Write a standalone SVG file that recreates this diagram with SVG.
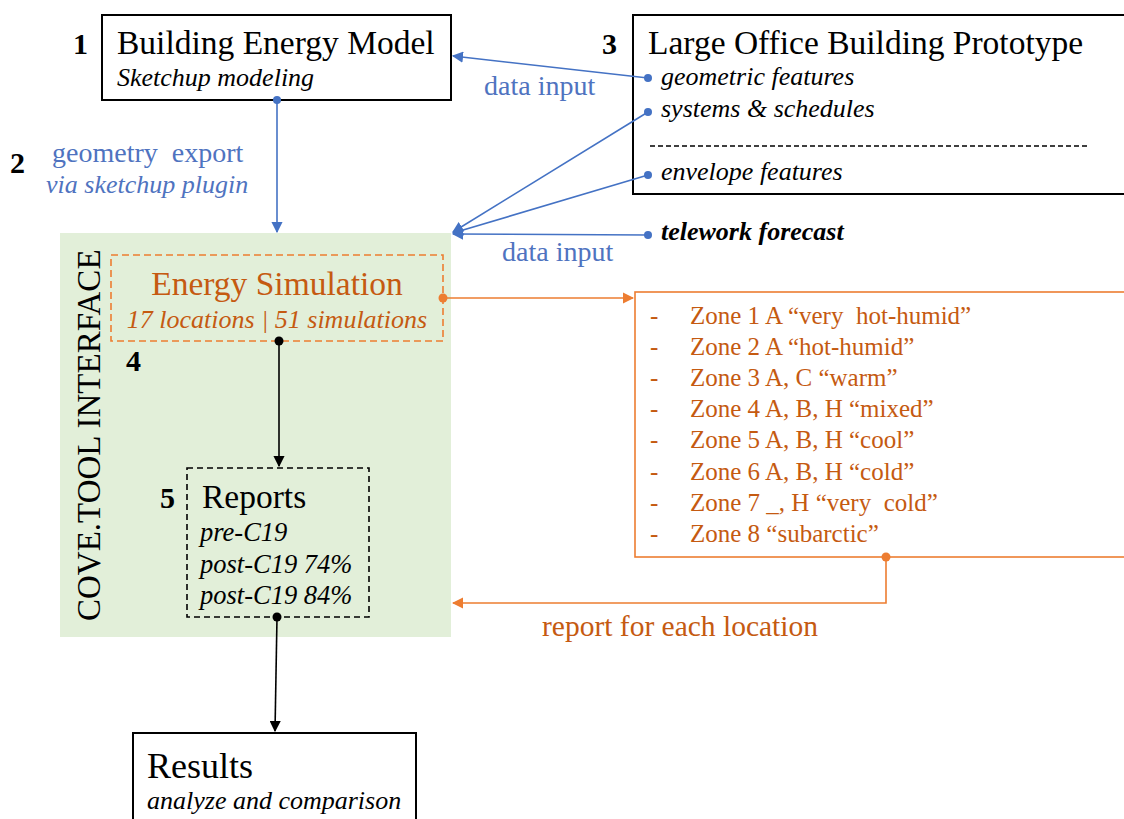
<svg xmlns="http://www.w3.org/2000/svg" width="1124" height="819" viewBox="0 0 1124 819">
<defs>
<marker id="ab" viewBox="0 0 10 10" refX="9" refY="5" markerWidth="7" markerHeight="7" orient="auto-start-reverse"><path d="M0,0 L10,5 L0,10 z" fill="#4472c4"/></marker>
<marker id="ak" viewBox="0 0 10 10" refX="9" refY="5" markerWidth="7" markerHeight="7" orient="auto"><path d="M0,0 L10,5 L0,10 z" fill="#000"/></marker>
<marker id="ao" viewBox="0 0 10 10" refX="9" refY="5" markerWidth="7" markerHeight="7" orient="auto"><path d="M0,0 L10,5 L0,10 z" fill="#ed7d31"/></marker>
</defs>
<style>
text{font-family:"Liberation Serif","Times New Roman",serif}
.t{font-size:33.5px;fill:#000}
.s{font-size:26px;font-style:italic;fill:#000}
.n{font-size:30px;font-weight:bold;fill:#000}
.bl{font-size:28px;fill:#4f73c0}
.bli{font-size:26px;font-style:italic;fill:#4f73c0}
.o{font-size:25px;fill:#c55a11}
.r{font-size:26.5px;font-style:italic;fill:#000}
.box{fill:#fff;stroke:#000;stroke-width:2}
.lb{stroke:#4472c4;stroke-width:1.6;fill:none}
.lo{stroke:#ed7d31;stroke-width:1.6;fill:none}
.lk{stroke:#000;stroke-width:1.6;fill:none}
</style>
<rect width="1124" height="819" fill="#fff"/>

<g id="cove">
<rect x="60" y="233" width="391" height="404" fill="#e2efd9"/>
<text transform="translate(100,621) rotate(-90)" style="font-size:33px;fill:#000">COVE.TOOL INTERFACE</text>
</g>

<g id="n1">
<rect class="box" x="102" y="15" width="349" height="85"/>
<text class="n" x="73" y="54">1</text>
<text class="t" x="117" y="54">Building Energy Model</text>
<text class="s" x="117" y="86">Sketchup modeling</text>
</g>

<g id="n2">
<text class="n" x="10" y="173">2</text>
<text class="bl" x="52" y="162" xml:space="preserve">geometry  export</text>
<text class="bli" x="46" y="193">via sketchup plugin</text>
</g>

<g id="n3">
<rect class="box" x="633" y="15" width="500" height="179"/>
<text class="n" x="602" y="54">3</text>
<text class="t" x="648" y="54">Large Office Building Prototype</text>
<text class="s" x="661" y="85">geometric features</text>
<text class="s" x="661" y="117">systems &amp; schedules</text>
<line x1="650" y1="146" x2="1088" y2="146" stroke="#000" stroke-width="1.3" stroke-dasharray="5,3"/>
<text class="s" x="661" y="180">envelope features</text>
</g>

<g id="telework">
<text x="661" y="240" style="font-size:26px;font-style:italic;font-weight:bold;fill:#000">telework forecast</text>
</g>

<g id="n4">
<rect x="111" y="255" width="332" height="86" fill="none" stroke="#ed7d31" stroke-width="1.6" stroke-dasharray="7,4"/>
<text x="277" y="295" text-anchor="middle" style="font-size:33.5px;fill:#c55a11">Energy Simulation</text>
<text x="277" y="328" text-anchor="middle" style="font-size:26px;font-style:italic;fill:#c55a11">17 locations | 51 simulations</text>
<text class="n" x="126" y="371">4</text>
</g>

<g id="n5">
<rect x="187" y="468" width="182" height="149" fill="none" stroke="#000" stroke-width="1.6" stroke-dasharray="6,4"/>
<text class="n" x="160" y="508">5</text>
<text class="t" x="202" y="508">Reports</text>
<text class="r" x="200" y="541">pre-C19</text>
<text class="r" x="200" y="573">post-C19 74%</text>
<text class="r" x="200" y="604">post-C19 84%</text>
</g>

<g id="zones">
<rect x="635" y="292" width="500" height="265" fill="#fff" stroke="#ed7d31" stroke-width="1.6"/>
<g class="o">
<text x="650" y="324">-</text><text x="690" y="324" xml:space="preserve">Zone 1 A “very  hot-humid”</text>
<text x="650" y="355">-</text><text x="690" y="355">Zone 2 A “hot-humid”</text>
<text x="650" y="386">-</text><text x="690" y="386">Zone 3 A, C “warm”</text>
<text x="650" y="417">-</text><text x="690" y="417">Zone 4 A, B, H “mixed”</text>
<text x="650" y="448">-</text><text x="690" y="448">Zone 5 A, B, H “cool”</text>
<text x="650" y="480">-</text><text x="690" y="480">Zone 6 A, B, H “cold”</text>
<text x="650" y="511">-</text><text x="690" y="511" xml:space="preserve">Zone 7 _, H “very  cold”</text>
<text x="650" y="542">-</text><text x="690" y="542">Zone 8 “subarctic”</text>
</g>
</g>

<g id="results">
<rect class="box" x="133" y="733" width="283" height="100"/>
<text x="147" y="778" style="font-size:36px;fill:#000">Results</text>
<text class="s" x="147" y="809">analyze and comparison</text>
</g>

<g id="connectors">
<line class="lb" x1="277" y1="100" x2="277" y2="232" marker-end="url(#ab)"/>
<circle cx="277" cy="100" r="4" fill="#4472c4"/>
<line class="lb" x1="648" y1="78" x2="453" y2="56" marker-end="url(#ab)"/>
<circle cx="648" cy="78" r="4" fill="#4472c4"/>
<line class="lb" x1="648" y1="112" x2="453" y2="232" marker-end="url(#ab)"/>
<circle cx="648" cy="112" r="4" fill="#4472c4"/>
<line class="lb" x1="648" y1="175" x2="453" y2="233" marker-end="url(#ab)"/>
<circle cx="648" cy="175" r="4" fill="#4472c4"/>
<line class="lb" x1="648" y1="235" x2="453" y2="234" marker-end="url(#ab)"/>
<circle cx="648" cy="235" r="4" fill="#4472c4"/>
<text class="bl" x="484" y="95">data input</text>
<text class="bl" x="502" y="261">data input</text>
<line class="lo" x1="443" y1="298" x2="633" y2="298" marker-end="url(#ao)"/>
<circle cx="443" cy="298" r="4.5" fill="#ed7d31"/>
<polyline class="lo" points="886,557 886,603 453,603" marker-end="url(#ao)"/>
<circle cx="886" cy="557" r="4.5" fill="#ed7d31"/>
<text x="542" y="636" style="font-size:29.5px;fill:#c55a11">report for each location</text>
<line class="lk" x1="279" y1="341" x2="279" y2="466" marker-end="url(#ak)"/>
<circle cx="279" cy="341" r="4.5" fill="#000"/>
<line class="lk" x1="277" y1="617" x2="275" y2="731" marker-end="url(#ak)"/>
<circle cx="277" cy="617" r="4.5" fill="#000"/>
</g>
</svg>
